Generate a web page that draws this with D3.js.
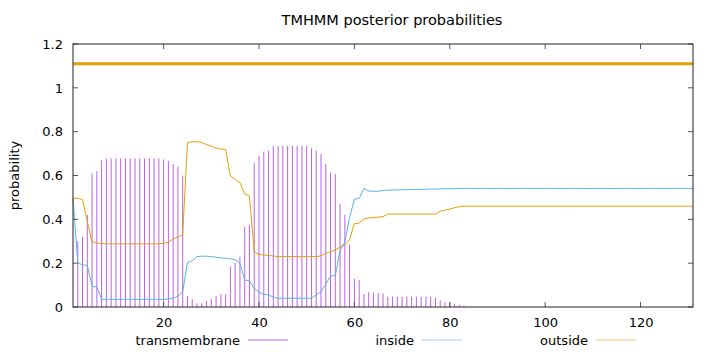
<!DOCTYPE html>
<html>
<head>
<meta charset="utf-8">
<script src="https://cdn.jsdelivr.net/npm/d3@7"></script>
<style>
  body { margin: 0; background: #fff; }
  svg { display: block; font-family: "DejaVu Sans", sans-serif; }
</style>
</head>
<body>
<svg id="chart" width="720" height="352"></svg>
<script>
// residue positions 1..131
const positions = d3.range(1, 132);

// posterior probabilities per residue
const transmembrane = [
  0, 0.30, 0.32, 0.42, 0.61, 0.62, 0.67, 0.678, 0.678, 0.678,
  0.678, 0.678, 0.678, 0.678, 0.678, 0.678, 0.678, 0.678, 0.678, 0.674,
  0.667, 0.652, 0.64, 0.60, 0.05, 0.036, 0.017, 0.017, 0.027, 0.036,
  0.05, 0.059, 0.059, 0.184, 0.202, 0.23, 0.366, 0.374, 0.658, 0.69,
  0.709, 0.713, 0.735, 0.735, 0.735, 0.735, 0.735, 0.735, 0.735, 0.735,
  0.724, 0.713, 0.698, 0.652, 0.613, 0.607, 0.47, 0.42, 0.286, 0.129,
  0.123, 0.059, 0.068, 0.066, 0.064, 0.062, 0.047, 0.047, 0.047, 0.047,
  0.047, 0.047, 0.047, 0.047, 0.047, 0.047, 0.043, 0.03, 0.022, 0.02,
  0.014, 0.01, 0.005, 0, 0, 0, 0, 0, 0, 0,
  0, 0, 0, 0, 0, 0, 0, 0, 0, 0,
  0, 0, 0, 0, 0, 0, 0, 0, 0, 0,
  0, 0, 0, 0, 0, 0, 0, 0, 0, 0,
  0, 0, 0, 0, 0, 0, 0, 0, 0, 0,
  0
];

const inside = [
  0.496, 0.202, 0.192, 0.19, 0.093, 0.092, 0.035, 0.035, 0.035, 0.035,
  0.035, 0.035, 0.035, 0.035, 0.035, 0.035, 0.035, 0.035, 0.035, 0.035,
  0.037, 0.04, 0.05, 0.07, 0.202, 0.211, 0.23, 0.232, 0.232, 0.23,
  0.227, 0.224, 0.222, 0.22, 0.215, 0.2, 0.123, 0.12, 0.085, 0.067,
  0.059, 0.055, 0.045, 0.04, 0.04, 0.04, 0.04, 0.04, 0.04, 0.04,
  0.04, 0.055, 0.07, 0.105, 0.141, 0.143, 0.258, 0.297, 0.408, 0.492,
  0.495, 0.541, 0.529, 0.528, 0.528, 0.532, 0.533, 0.534, 0.534, 0.535,
  0.535, 0.536, 0.536, 0.537, 0.537, 0.538, 0.538, 0.539, 0.539, 0.54,
  0.54, 0.541, 0.541, 0.541, 0.541, 0.541, 0.541, 0.541, 0.541, 0.541,
  0.541, 0.541, 0.541, 0.541, 0.541, 0.541, 0.541, 0.541, 0.541, 0.541,
  0.541, 0.541, 0.541, 0.541, 0.541, 0.541, 0.541, 0.541, 0.541, 0.541,
  0.541, 0.541, 0.541, 0.541, 0.541, 0.541, 0.541, 0.541, 0.541, 0.541,
  0.541, 0.541, 0.541, 0.541, 0.541, 0.541, 0.541, 0.541, 0.541, 0.541,
  0.541
];

const outside = [
  0.496, 0.496, 0.49, 0.39, 0.297, 0.291, 0.291, 0.288, 0.288, 0.288,
  0.288, 0.288, 0.288, 0.288, 0.288, 0.288, 0.288, 0.288, 0.288, 0.29,
  0.296, 0.31, 0.32, 0.33, 0.75, 0.754, 0.754, 0.75, 0.741, 0.734,
  0.724, 0.72, 0.72, 0.598, 0.583, 0.567, 0.516, 0.506, 0.252, 0.24,
  0.237, 0.235, 0.233, 0.23, 0.23, 0.23, 0.23, 0.23, 0.23, 0.23,
  0.23, 0.23, 0.233, 0.245, 0.253, 0.26, 0.273, 0.284, 0.307, 0.38,
  0.383, 0.402, 0.406, 0.409, 0.41, 0.412, 0.424, 0.424, 0.424, 0.424,
  0.424, 0.424, 0.424, 0.424, 0.424, 0.424, 0.424, 0.437, 0.442, 0.447,
  0.453, 0.458, 0.46, 0.46, 0.46, 0.46, 0.46, 0.46, 0.46, 0.46,
  0.46, 0.46, 0.46, 0.46, 0.46, 0.46, 0.46, 0.46, 0.46, 0.46,
  0.46, 0.46, 0.46, 0.46, 0.46, 0.46, 0.46, 0.46, 0.46, 0.46,
  0.46, 0.46, 0.46, 0.46, 0.46, 0.46, 0.46, 0.46, 0.46, 0.46,
  0.46, 0.46, 0.46, 0.46, 0.46, 0.46, 0.46, 0.46, 0.46, 0.46,
  0.46
];

// predicted topology band drawn above the curves
const topology = [{ label: "outside", start: 1, end: 131, level: 1.11 }];

const xTicks = [20, 40, 60, 80, 100, 120];
const yTicks = [0, 0.2, 0.4, 0.6, 0.8, 1, 1.2];

const colors = { transmembrane: "#9400d3", inside: "#56b4e9", outside: "#e69f00" };

const svg = d3.select("#chart");
const margin = { left: 73, right: 27, top: 44, bottom: 45 };
const W = 720, H = 352;

const x = d3.scaleLinear().domain([1, 131]).range([margin.left, W - margin.right]);
const y = d3.scaleLinear().domain([0, 1.2]).range([H - margin.bottom, margin.top]);

// title + y label
svg.append("text")
  .attr("x", 392)
  .attr("y", 25)
  .attr("text-anchor", "middle")
  .style("font-size", "14.5px")
  .text("TMHMM posterior probabilities");

svg.append("text")
  .attr("transform", `translate(19,${(y(0) + y(1.2)) / 2}) rotate(-90)`)
  .attr("text-anchor", "middle")
  .style("font-size", "13px")
  .text("probability");

// impulses
svg.append("g")
  .selectAll("line")
  .data(positions.filter((p, i) => transmembrane[i] > 0))
  .join("line")
  .attr("x1", d => x(d)).attr("x2", d => x(d))
  .attr("y1", y(0))
  .attr("y2", d => y(transmembrane[d - 1]))
  .attr("stroke", colors.transmembrane)
  .attr("stroke-opacity", 0.62)
  .attr("stroke-width", 1);

const line = d3.line().x((d, i) => x(positions[i])).y(d => y(d));

svg.append("path").datum(inside)
  .attr("d", line).attr("fill", "none")
  .attr("stroke", colors.inside).attr("stroke-width", 1);

svg.append("path").datum(outside)
  .attr("d", line).attr("fill", "none")
  .attr("stroke", colors.outside).attr("stroke-width", 1);

svg.append("g").selectAll("line")
  .data(topology)
  .join("line")
  .attr("x1", d => x(d.start)).attr("x2", d => x(d.end))
  .attr("y1", d => y(d.level)).attr("y2", d => y(d.level))
  .attr("stroke", d => colors[d.label])
  .attr("stroke-width", 3);

// axes, gnuplot style: inward ticks mirrored on all sides
const fmt = d3.format("~g");
const yAxis = svg.append("g").attr("transform", `translate(${x.range()[0]},0)`)
  .call(d3.axisLeft(y).tickValues(yTicks).tickSize(0).tickPadding(10).tickFormat(fmt));
const xAxis = svg.append("g").attr("transform", `translate(0,${y(0)})`)
  .call(d3.axisBottom(x).tickValues(xTicks).tickSize(0).tickPadding(11).tickFormat(fmt));
[yAxis, xAxis].forEach(g => {
  g.select(".domain").remove();
  g.selectAll("text").style("font-size", "13px").attr("fill", "#000").style("font-family", "DejaVu Sans, sans-serif");
});

const ticks = svg.append("g").attr("stroke", "#555").attr("stroke-width", 1);
yTicks.forEach(t => {
  ticks.append("line").attr("x1", x.range()[0]).attr("x2", x.range()[0] + 5).attr("y1", y(t)).attr("y2", y(t));
  ticks.append("line").attr("x1", x.range()[1]).attr("x2", x.range()[1] - 5).attr("y1", y(t)).attr("y2", y(t));
});
xTicks.forEach(t => {
  ticks.append("line").attr("x1", x(t)).attr("x2", x(t)).attr("y1", y(0)).attr("y2", y(0) - 5);
  ticks.append("line").attr("x1", x(t)).attr("x2", x(t)).attr("y1", y(1.2)).attr("y2", y(1.2) + 5);
});

svg.append("rect")
  .attr("x", x.range()[0]).attr("y", y(1.2))
  .attr("width", x.range()[1] - x.range()[0])
  .attr("height", y(0) - y(1.2))
  .attr("fill", "none").attr("stroke", "#222").attr("stroke-width", 1);

// key
const keys = ["transmembrane", "inside", "outside"];
const key = svg.append("g").attr("transform", "translate(0,340)");
keys.forEach((k, i) => {
  const tx = 240 + i * 174;
  key.append("text").attr("x", tx).attr("y", 5)
    .attr("text-anchor", "end").style("font-size", "13px").text(k);
  key.append("line").attr("x1", tx + 8).attr("x2", tx + 48)
    .attr("y1", 0).attr("y2", 0)
    .attr("stroke", colors[k]).attr("stroke-opacity", 0.6);
});
</script>
</body>
</html>
